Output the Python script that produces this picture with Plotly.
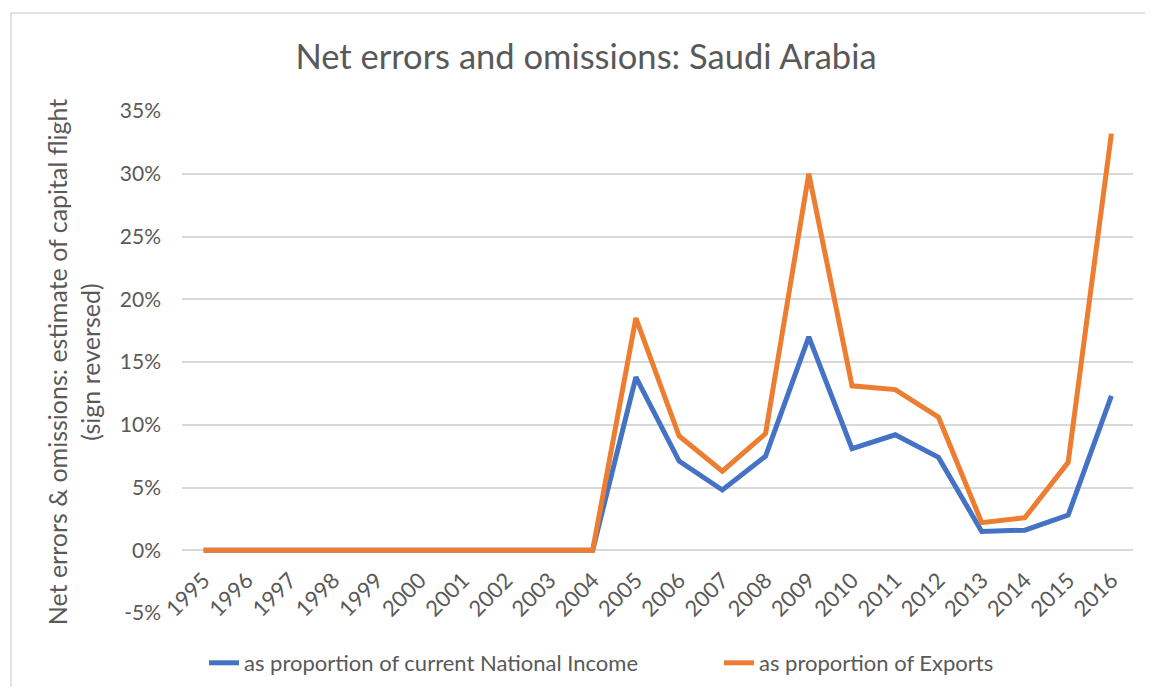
import plotly.graph_objects as go

years = [str(y) for y in range(1995, 2017)]
national_income = [0, 0, 0, 0, 0, 0, 0, 0, 0, 0,
                   0.138, 0.071, 0.048, 0.075, 0.170, 0.081, 0.092, 0.074,
                   0.015, 0.016, 0.028, 0.123]
exports = [0, 0, 0, 0, 0, 0, 0, 0, 0, 0,
           0.185, 0.091, 0.063, 0.093, 0.300, 0.131, 0.128, 0.106,
           0.022, 0.026, 0.070, 0.332]
y_ticks = [-0.05, 0, 0.05, 0.10, 0.15, 0.20, 0.25, 0.30, 0.35]
y_labels = ["-5%", "0%", "5%", "10%", "15%", "20%", "25%", "30%", "35%"]

TXT = "#595959"
FONT = "Lato"

# The page body has an 8px margin, so the figure is sized to fit inside it.
W, H = 1137, 679
OFF = 8

fig = go.Figure()
fig.add_trace(go.Scatter(x=years, y=national_income, mode="lines",
                         name="as proportion of current National Income",
                         line=dict(color="#4472C4", width=5), legend="legend"))
fig.add_trace(go.Scatter(x=years, y=exports, mode="lines",
                         name="as proportion of Exports",
                         line=dict(color="#ED7D31", width=5), legend="legend2"))

ml, mt = 182 - OFF, 111 - OFF
mr = W - (1133 - OFF)
mb = H - (613 - OFF)
pw, ph = W - ml - mr, H - mt - mb

leg_common = dict(orientation="h", xref="container", xanchor="left",
                  yref="container", y=1 - (663 - OFF) / H, yanchor="middle",
                  font=dict(size=22, color=TXT, family=FONT),
                  bgcolor="rgba(0,0,0,0)")

fig.update_layout(
    width=W, height=H,
    paper_bgcolor="white", plot_bgcolor="white",
    margin=dict(l=ml, r=mr, t=mt, b=mb, autoexpand=False),
    font=dict(family=FONT, color=TXT),
    title=dict(text="Net errors and omissions: Saudi Arabia",
               font=dict(size=34.5, color=TXT, family=FONT),
               xref="container", x=(586 - OFF) / W, xanchor="center",
               yref="container", y=1 - (57 - OFF) / H, yanchor="middle"),
    showlegend=True,
    legend=dict(x=(204 - OFF) / W, **leg_common),
    legend2=dict(x=(719 - OFF) / W, **leg_common),
    xaxis=dict(type="category", range=[-0.5, 21.5], showgrid=False, dtick=1,
               showline=False, ticks="", tickangle=-45,
               tickfont=dict(size=22, color=TXT), ticklabelstandoff=12,
               anchor="free", position=0.125, zeroline=False, automargin=False),
    yaxis=dict(range=[-0.05, 0.35], tickvals=y_ticks, ticktext=y_labels,
               showgrid=True, gridcolor="#D9D9D9", gridwidth=1.5,
               zeroline=False, showline=False, ticks="", automargin=False,
               tickfont=dict(size=21, color=TXT), ticklabelstandoff=20,
               title=dict(text="Net errors & omissions: estimate of capital flight<br>(sign reversed)",
                          font=dict(size=25, color=TXT), standoff=12)),
    shapes=[dict(type="rect", xref="paper", yref="paper",
                 x0=(11 - 182) / pw, x1=1.1, y0=-0.5, y1=(613 - 13) / ph,
                 line=dict(color="#D9D9D9", width=1.5), fillcolor="rgba(0,0,0,0)",
                 layer="below")],
)

fig.write_html("out.html")
